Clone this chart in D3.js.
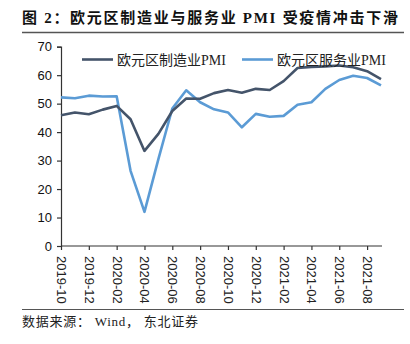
<!DOCTYPE html>
<html><head><meta charset="utf-8">
<script src="https://cdn.jsdelivr.net/npm/d3@7"></script>
<style>
html,body{margin:0;padding:0;background:#fff;}
svg{display:block;}
</style></head>
<body>
<script>
const months = ["2019-10","2019-11","2019-12","2020-01","2020-02","2020-03","2020-04","2020-05","2020-06","2020-07","2020-08","2020-09","2020-10","2020-11","2020-12","2021-01","2021-02","2021-03","2021-04","2021-05","2021-06","2021-07","2021-08","2021-09"];
const manufacturing = [45.9,46.9,46.3,47.9,49.2,44.5,33.4,39.4,47.4,51.8,51.7,53.7,54.8,53.8,55.2,54.8,57.9,62.5,62.9,63.1,63.4,62.8,61.4,58.6];
const services = [52.2,51.9,52.8,52.5,52.6,26.4,12.0,30.5,48.3,54.7,50.5,48.0,46.9,41.7,46.4,45.4,45.7,49.6,50.5,55.2,58.3,59.8,59.0,56.4];
const tickLabels = ["2019-10","2019-12","2020-02","2020-04","2020-06","2020-08","2020-10","2020-12","2021-02","2021-04","2021-06","2021-08"];
const yTicks = [0,10,20,30,40,50,60,70];
const seriesNames = ["欧元区制造业PMI","欧元区服务业PMI"];
const colors = ["#44546A","#5B9BD5"];
const title = "图  2：欧元区制造业与服务业 PMI 受疫情冲击下滑";
const source = "数据来源： Wind， 东北证券";

const W = 410, H = 344;
const svg = d3.select("body").append("svg").attr("width", W).attr("height", H);

// Title
svg.append("text").attr("x", 22).attr("y", 23)
  .attr("font-family", "'Liberation Serif','Noto Sans CJK SC',serif")
  .attr("font-weight", "bold").attr("font-size", 15).attr("fill", "#111")
  .attr("textLength", 376).attr("lengthAdjust", "spacing")
  .text(title);
svg.append("line").attr("x1", 22).attr("x2", 404).attr("y1", 32.5).attr("y2", 32.5)
  .attr("stroke", "#555").attr("stroke-width", 1.5);

// Scales
const x = d3.scalePoint().domain(months).range([61, 381]);
const y = d3.scaleLinear().domain([0, 70]).range([246, 46.7]);

const axisColor = "#333";
// Y axis
const yAxis = svg.append("g").attr("transform", "translate(61,0)")
  .call(d3.axisLeft(y).tickValues(yTicks).tickSize(4).tickPadding(5).tickFormat(d3.format("d")));
yAxis.select(".domain").attr("stroke", axisColor).attr("stroke-width", 1.2);
yAxis.selectAll(".tick line").attr("stroke", axisColor).attr("stroke-width", 1.2);
yAxis.selectAll("text").attr("font-family", "'Liberation Sans',Arial,sans-serif").attr("font-size", 13).attr("fill", "#111");

// X axis
const xAxis = svg.append("g").attr("transform", "translate(0,246)")
  .call(d3.axisBottom(x).tickValues(tickLabels).tickSize(4).tickSizeOuter(0));
xAxis.select(".domain").attr("stroke", axisColor).attr("stroke-width", 1.2)
  .attr("d", "M61,0H382");
xAxis.selectAll(".tick line").attr("stroke", axisColor).attr("stroke-width", 1.2);
xAxis.selectAll("text")
  .attr("font-family", "'Liberation Sans',Arial,sans-serif").attr("font-size", 13).attr("fill", "#222")
  .attr("text-anchor", "start").attr("dy", null).attr("y", 0)
  .attr("transform", "translate(-4.5,10) rotate(90)");

// Lines
const line = d3.line().x((d, i) => x(months[i])).y(d => y(d));
[services, manufacturing].forEach((s, k) => {
  const ci = k === 0 ? 1 : 0;
  svg.append("path").datum(s).attr("d", line).attr("fill", "none")
    .attr("stroke", colors[ci]).attr("stroke-width", 2.6).attr("stroke-linejoin", "round");
});

// Legend
const legendX = [82, 242];
seriesNames.forEach((n, i) => {
  const g = svg.append("g");
  g.append("line").attr("x1", legendX[i]).attr("x2", legendX[i] + 31).attr("y1", 59.5).attr("y2", 59.5)
    .attr("stroke", colors[i]).attr("stroke-width", 2.6);
  g.append("text").attr("x", legendX[i] + 35).attr("y", 64.5)
    .attr("font-family", "'Liberation Serif','Noto Sans CJK SC',serif").attr("font-size", 14).attr("fill", "#222")
    .text(n);
});

// Bottom rule and source
svg.append("line").attr("x1", 22).attr("x2", 404).attr("y1", 309.5).attr("y2", 309.5)
  .attr("stroke", "#555").attr("stroke-width", 1);
svg.append("text").attr("x", 22).attr("y", 326)
  .attr("font-family", "'Liberation Serif','Noto Sans CJK SC',serif").attr("font-size", 13).attr("fill", "#222")
  .attr("textLength", 176).attr("lengthAdjust", "spacing")
  .text(source);
</script>
</body></html>
